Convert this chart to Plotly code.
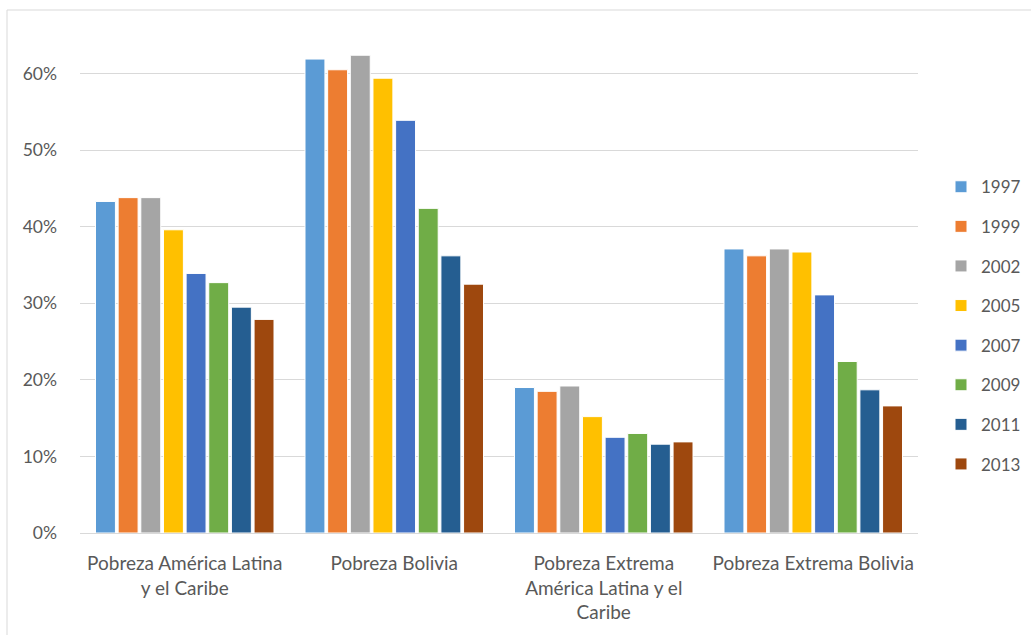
import plotly.graph_objects as go

categories = [
    "Pobreza América Latina<br>y el Caribe",
    "Pobreza Bolivia",
    "Pobreza Extrema<br>América Latina y el<br>Caribe",
    "Pobreza Extrema Bolivia",
]
years = ["1997", "1999", "2002", "2005", "2007", "2009", "2011", "2013"]

v1997 = [0.433, 0.619, 0.190, 0.371]
v1999 = [0.438, 0.605, 0.185, 0.362]
v2002 = [0.438, 0.624, 0.192, 0.371]
v2005 = [0.396, 0.594, 0.152, 0.367]
v2007 = [0.339, 0.539, 0.125, 0.311]
v2009 = [0.327, 0.424, 0.130, 0.224]
v2011 = [0.295, 0.362, 0.116, 0.187]
v2013 = [0.279, 0.325, 0.119, 0.166]

series = [v1997, v1999, v2002, v2005, v2007, v2009, v2011, v2013]
colors = ["#5B9BD5", "#ED7D31", "#A5A5A5", "#FFC000", "#4472C4", "#70AD47", "#255E91", "#9E480E"]

FONT = "Lato"
GREY = "#595959"

fig = go.Figure()
for y, vals, c in zip(years, series, colors):
    fig.add_trace(go.Bar(
        x=categories, y=vals, name=y, legendgroup=y,
        marker=dict(color=c, line=dict(color="white", width=1)),
    ))

L, R, T, B = 80, 113, 20, 101.5
W, H = 1031, 635
pw = W - L - R
ph = H - T - B

fig.update_layout(
    width=W, height=H,
    margin=dict(l=L, r=R, t=T, b=B, pad=0, autoexpand=False),
    paper_bgcolor="white", plot_bgcolor="white",
    barmode="group", bargap=0.135, bargroupgap=0.12,
    font=dict(family=FONT, size=17, color=GREY),
    showlegend=True,
    legend=dict(
        x=(941 - L) / pw, xanchor="left",
        y=(533.5 - 326) / ph, yanchor="middle",
        font=dict(family=FONT, size=17, color=GREY),
        tracegroupgap=14.5, itemwidth=30,
        bgcolor="rgba(0,0,0,0)",
    ),
    xaxis=dict(
        showgrid=False, showline=True, linecolor="#D9D9D9", linewidth=1,
        ticks="", tickfont=dict(family=FONT, size=19, color=GREY),
        ticklabelstandoff=13, fixedrange=True,
    ),
    yaxis=dict(
        range=[0, 0.67], tickvals=[0, 0.1, 0.2, 0.3, 0.4, 0.5, 0.6],
        tickformat=".0%", showgrid=True, gridcolor="#D9D9D9", gridwidth=1,
        zeroline=False, showline=False, ticks="",
        tickfont=dict(family=FONT, size=17.5, color=GREY),
        ticklabelstandoff=22, fixedrange=True,
    ),
    shapes=[dict(
        type="rect", xref="paper", yref="paper",
        x0=(7 - L) / pw, x1=(W + 20 - L) / pw,
        y0=(533.5 - (H + 20)) / ph, y1=(533.5 - 10) / ph,
        line=dict(color="#D9D9D9", width=1), fillcolor="rgba(0,0,0,0)", layer="below",
    )],
)

fig.write_html("out.html")
